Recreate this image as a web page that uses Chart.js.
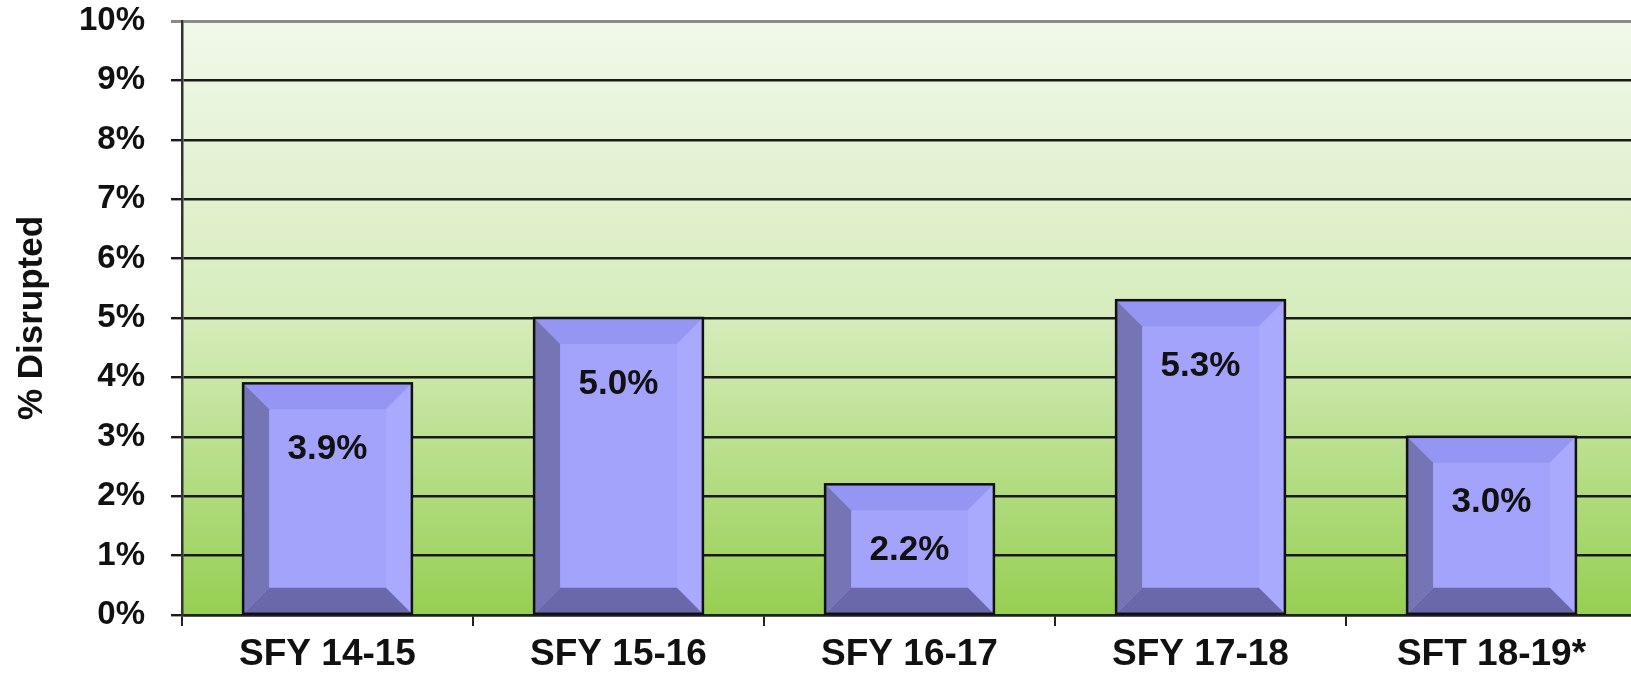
<!DOCTYPE html>
<html>
<head>
<meta charset="utf-8">
<script src="https://cdn.jsdelivr.net/npm/chart.js@4/dist/chart.umd.min.js"></script>
<style>
  html, body { margin: 0; padding: 0; background: #fff; overflow: hidden; }
  canvas { display: block; }
</style>
</head>
<body>
<canvas id="chart" width="1640" height="673"></canvas>
<script>
// データ
const categories = ['SFY 14-15', 'SFY 15-16', 'SFY 16-17', 'SFY 17-18', 'SFT 18-19*'];
const disrupted = [3.9, 5.0, 2.2, 5.3, 3.0];
const yTicks = [0, 1, 2, 3, 4, 5, 6, 7, 8, 9, 10];

const FONT = '"Liberation Sans", Arial, sans-serif';

// 背景グラデーション
const plotBackground = {
    id: 'plotBackground',
    beforeDraw(chart) {
        const { ctx, chartArea: a } = chart;
        const g = ctx.createLinearGradient(0, a.top, 0, a.bottom);
        g.addColorStop(0, '#f1f8ea');
        g.addColorStop(0.5, '#d6ecbc');
        g.addColorStop(1, '#96cf52');
        ctx.save();
        ctx.fillStyle = g;
        ctx.fillRect(a.left, a.top, a.right - a.left, a.bottom - a.top);
        ctx.restore();
    }
};

// 面取りされた棒と値ラベル
const bevelBars = {
    id: 'bevelBars',
    afterDatasetsDraw(chart) {
        const { ctx } = chart;
        const meta = chart.getDatasetMeta(0);
        const d = 26;
        ctx.save();
        meta.data.forEach((bar, i) => {
            const L = bar.x - bar.width / 2, R = bar.x + bar.width / 2;
            const T = bar.y, B = bar.base;
            const poly = (pts, color) => {
                ctx.beginPath();
                ctx.moveTo(pts[0][0], pts[0][1]);
                pts.slice(1).forEach(p => ctx.lineTo(p[0], p[1]));
                ctx.closePath();
                ctx.fillStyle = color;
                ctx.fill();
            };
            poly([[L, T], [R, T], [R - d, T + d], [L + d, T + d]], '#9595f3');
            poly([[R, T], [R, B], [R - d, B - d], [R - d, T + d]], '#a9a9fd');
            poly([[L, B], [L + d, B - d], [R - d, B - d], [R, B]], '#6868ab');
            poly([[L, T], [L + d, T + d], [L + d, B - d], [L, B]], '#7575b5');
            ctx.lineWidth = 2.5;
            ctx.strokeStyle = '#111';
            ctx.strokeRect(L, T, R - L, B - T);

            ctx.fillStyle = '#111';
            ctx.font = 'bold 35px ' + FONT;
            ctx.textAlign = 'center';
            ctx.textBaseline = 'middle';
            ctx.fillText(disrupted[i].toFixed(1) + '%', bar.x, T + 66);
        });
        ctx.restore();
    }
};

new Chart(document.getElementById('chart'), {
    type: 'bar',
    data: {
        labels: categories,
        datasets: [{
            data: disrupted,
            backgroundColor: '#a3a3fb',
            borderWidth: 0,
            barPercentage: 0.58,
            categoryPercentage: 1
        }]
    },
    options: {
        responsive: false,
        animation: false,
        events: [],
        layout: { padding: { top: 0, right: 3, left: 0, bottom: 0 } },
        plugins: {
            legend: { display: false },
            tooltip: { enabled: false }
        },
        scales: {
            x: {
                offset: true,
                grid: {
                    offset: true,
                    drawOnChartArea: false,
                    drawTicks: true,
                    tickLength: 11,
                    color: '#222',
                    lineWidth: 2
                },
                border: { display: true, color: '#222', width: 2.5 },
                ticks: {
                    color: '#111',
                    padding: 7,
                    font: { family: FONT, size: 37, weight: 'bold' },
                    maxRotation: 0
                },
                afterFit(scale) { scale.height = 58; }
            },
            y: {
                min: 0,
                max: 10,
                afterBuildTicks(scale) {
                    scale.ticks = yTicks.map(v => ({ value: v }));
                },
                grid: {
                    tickLength: 11,
                    color: c => (c.tick && c.tick.value === 10) ? '#8a8a8a' : '#1a1a1a',
                    lineWidth: c => (c.tick && c.tick.value === 10) ? 3 : 2.4
                },
                border: { display: true, color: '#333', width: 2.5 },
                ticks: {
                    color: '#111',
                    padding: 26,
                    font: { family: FONT, size: 33, weight: 'bold' },
                    callback: v => v + '%'
                },
                title: {
                    display: true,
                    text: '% Disrupted',
                    color: '#111',
                    font: { family: FONT, size: 35, weight: 'bold' },
                    padding: { top: 11, bottom: 0 }
                },
                afterFit(scale) {
                    scale.width = 182;
                    scale.paddingTop = 21;
                    scale.paddingBottom = 0;
                }
            }
        }
    },
    plugins: [plotBackground, bevelBars]
});
</script>
</body>
</html>
